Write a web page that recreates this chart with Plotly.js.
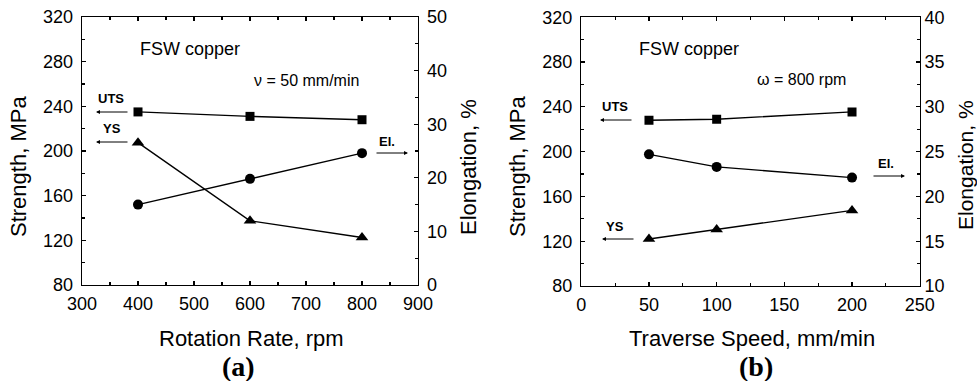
<!DOCTYPE html>
<html><head><meta charset="utf-8">
<script src="https://cdn.plot.ly/plotly-3.0.1.min.js"></script>
<style>html,body{margin:0;padding:0;background:#fff}#chart{width:977px;height:381px}</style>
</head><body><div id="chart"></div>
<script>
// Panel (a): constant traverse speed 50 mm/min
const rotationRate = [400, 600, 800];
const utsA = [235, 231, 228];
const ysA = [207.5, 137.5, 122.5];
const elA = [15.0, 19.8, 24.6];
// Panel (b): constant rotation rate 800 rpm
const traverseSpeed = [50, 100, 200];
const utsB = [228, 229, 235.5];
const ysB = [122, 130.5, 147.5];
const elB = [24.7, 23.3, 22.1];

const W = 977, H = 381;
const px = v => v / W, py = v => 1 - v / H;
const FONT = 'Liberation Sans, Arial, sans-serif';
const line = {color: '#000', width: 1.4};
function tr(x, y, xa, ya, sym, size) {
  return {x: x, y: y, xaxis: xa, yaxis: ya, type: 'scatter', mode: 'lines+markers',
    line: line, marker: {symbol: sym, size: size, color: '#000'}, showlegend: false, hoverinfo: 'x+y'};
}
const data = [
  tr(rotationRate, utsA, 'x', 'y', 'square', 9),
  tr(rotationRate, ysA, 'x', 'y', 'triangle-up', 11),
  tr(rotationRate, elA, 'x', 'y2', 'circle', 10),
  tr(traverseSpeed, utsB, 'x2', 'y3', 'square', 9),
  tr(traverseSpeed, ysB, 'x2', 'y3', 'triangle-up', 11),
  tr(traverseSpeed, elB, 'x2', 'y4', 'circle', 10)
];
const tickFont = {family: FONT, size: 18, color: '#000'};
function minor(d) { return {ticks: 'inside', ticklen: 3, tickwidth: 1.2, tickcolor: '#000', dtick: d}; }
function axis(extra) {
  return Object.assign({
    showgrid: false, zeroline: false, showline: true, linecolor: '#000', linewidth: 1.3,
    ticks: 'inside', ticklen: 4, tickwidth: 1.2, tickcolor: '#000', tickfont: tickFont,
    fixedrange: true
  }, extra);
}
const yA = [py(285), py(17)], yB = [py(286), py(17.3)];
const layout = {
  width: W, height: H, margin: {l: 0, r: 0, t: 0, b: 0},
  paper_bgcolor: '#fff', plot_bgcolor: 'rgba(0,0,0,0)',
  font: {family: FONT, color: '#000'}, showlegend: false,
  xaxis: axis({domain: [px(82), px(418)], anchor: 'y', range: [300, 900], dtick: 100, tick0: 0, minor: minor(50), mirror: 'ticks', ticklabelstandoff: 2}),
  yaxis: axis({domain: yA, anchor: 'x', range: [80, 320], dtick: 40, tick0: 0, minor: minor(20), ticklabelstandoff: 4}),
  yaxis2: axis({overlaying: 'y', anchor: 'x', side: 'right', range: [0, 50], dtick: 10, tick0: 0, minor: minor(5), ticklabelstandoff: 4}),
  xaxis2: axis({domain: [px(581.3), px(919.7)], anchor: 'y3', range: [0, 250], dtick: 50, tick0: 0, minor: minor(25), mirror: 'ticks', ticklabelstandoff: 2}),
  yaxis3: axis({domain: yB, anchor: 'x2', range: [80, 320], dtick: 40, tick0: 0, minor: minor(20), ticklabelstandoff: 4}),
  yaxis4: axis({overlaying: 'y3', anchor: 'x2', side: 'right', range: [10, 40], dtick: 5, tick0: 0, minor: minor(2.5)}),
  annotations: []
};
function txt(t, x, y, size, opts) {
  layout.annotations.push(Object.assign({text: t, xref: 'paper', yref: 'paper', x: px(x), y: py(y),
    showarrow: false, xanchor: 'center', yanchor: 'middle', font: {family: FONT, size: size, color: '#000'}}, opts || {}));
}
function arrow(hx, hy, tx, ty) {
  layout.annotations.push({text: '', xref: 'paper', yref: 'paper', x: px(hx), y: py(hy),
    ax: tx - hx, ay: ty - hy, showarrow: true, arrowhead: 2, arrowsize: 0.8, arrowwidth: 1, arrowcolor: '#000'});
}
const SERIF = {family: 'Liberation Serif, Times New Roman, serif', size: 28, color: '#000'};
// Axis titles
txt('Strength, MPa', 18, 167, 22, {textangle: -90});
txt('Elongation, %', 468, 167, 22, {textangle: -90});
txt('Rotation Rate, rpm', 251, 338, 22);
txt('<b>(a)</b>', 238, 366, 28, {font: SERIF});
txt('Strength, MPa', 517, 167, 22, {textangle: -90});
txt('Elongation, %', 965, 165, 21, {textangle: -90});
txt('Traverse Speed, mm/min', 752, 338, 22);
txt('<b>(b)</b>', 756, 366, 28, {font: SERIF});
// Inner labels
txt('FSW copper', 138, 49, 18, {xanchor: 'left'});
txt('\u03bd = 50 mm/min', 252, 80, 16, {xanchor: 'left'});
txt('FSW copper', 637, 49, 18, {xanchor: 'left'});
txt('\u03c9 = 800 rpm', 755, 79, 16, {xanchor: 'left'});
txt('<b>UTS</b>', 111, 98, 13);
txt('<b>YS</b>', 112, 128, 13);
txt('<b>El.</b>', 387, 141, 13);
txt('<b>UTS</b>', 615, 106, 13);
txt('<b>YS</b>', 615, 226, 13);
txt('<b>El.</b>', 886, 163, 13);
arrow(96, 112, 129, 112);
arrow(96, 142, 129, 142);
arrow(408, 153, 375, 153);
arrow(600, 120, 633, 120);
arrow(602, 239, 635, 239);
arrow(905, 176, 872, 176);
Plotly.newPlot('chart', data, layout, {displayModeBar: false, staticPlot: true});
</script></body></html>
